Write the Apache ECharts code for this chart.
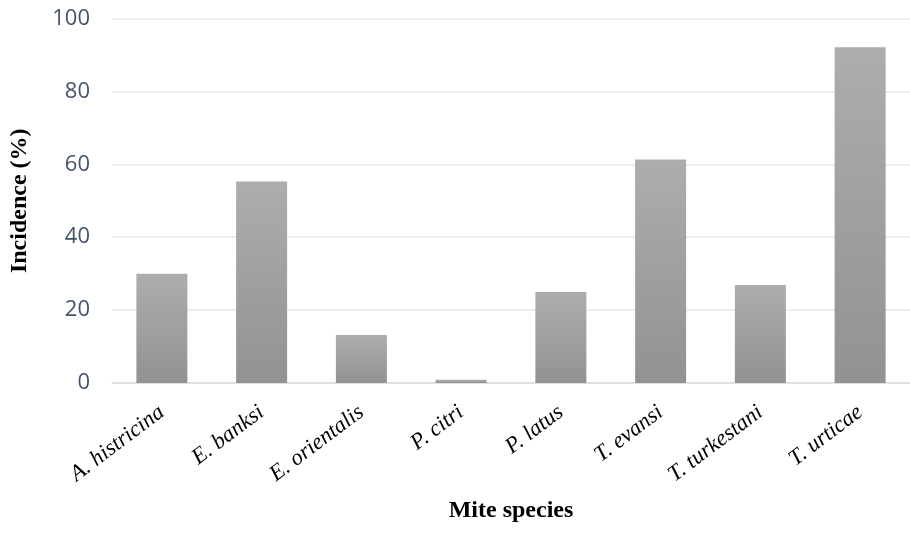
<!DOCTYPE html>
<html>
<head>
<meta charset="utf-8">
<script src="https://cdn.jsdelivr.net/npm/echarts@6/dist/echarts.min.js"></script>
<style>html,body{margin:0;padding:0;background:#fff;}#c{width:910px;height:534px;}</style>
</head>
<body>
<div id="c"></div>
<script>
const categories = ['A. histricina', 'E. banksi', 'E. orientalis', 'P. citri', 'P. latus', 'T. evansi', 'T. turkestani', 'T. urticae'];
const incidence = [30, 55.3, 13.2, 0.9, 25, 61.3, 26.9, 92.1];
const yTicks = [0, 20, 40, 60, 80, 100];

const chart = echarts.init(document.getElementById('c'), null, {renderer: 'canvas'});
chart.setOption({
  animation: false,
  backgroundColor: '#ffffff',
  grid: {left: 112, right: -6, top: 18.5, bottom: 151, containLabel: false},
  xAxis: {
    type: 'category',
    data: categories,
    name: 'Mite species',
    nameLocation: 'middle',
    nameGap: 116,
    nameTextStyle: {fontFamily: 'Liberation Serif', fontWeight: 'bold', fontSize: 24, color: '#000'},
    axisLine: {lineStyle: {color: '#d9dce1', width: 1.5}},
    axisTick: {show: false},
    axisLabel: {
      rotate: 37, interval: 0, margin: 27,
      fontFamily: 'Liberation Serif', fontStyle: 'italic', fontSize: 22.5, color: '#000'
    }
  },
  yAxis: {
    type: 'value',
    min: yTicks[0], max: yTicks[yTicks.length - 1], interval: 20,
    name: 'Incidence (%)',
    nameLocation: 'middle',
    nameGap: 80,
    nameRotate: 90,
    nameTextStyle: {fontFamily: 'Liberation Serif', fontWeight: 'bold', fontSize: 24, color: '#000'},
    axisLine: {show: false},
    axisTick: {show: false},
    axisLabel: {margin: 22, fontFamily: 'Open Sans', fontSize: 22, color: '#44546a'},
    splitLine: {lineStyle: {color: '#e4e7ec', width: 1.5}}
  },
  series: [{
    type: 'bar',
    data: incidence,
    barWidth: 51,
    itemStyle: {
      color: new echarts.graphic.LinearGradient(0, 0, 0, 1, [
        {offset: 0, color: '#adadad'},
        {offset: 1, color: '#929292'}
      ])
    }
  }]
});
</script>
</body>
</html>
